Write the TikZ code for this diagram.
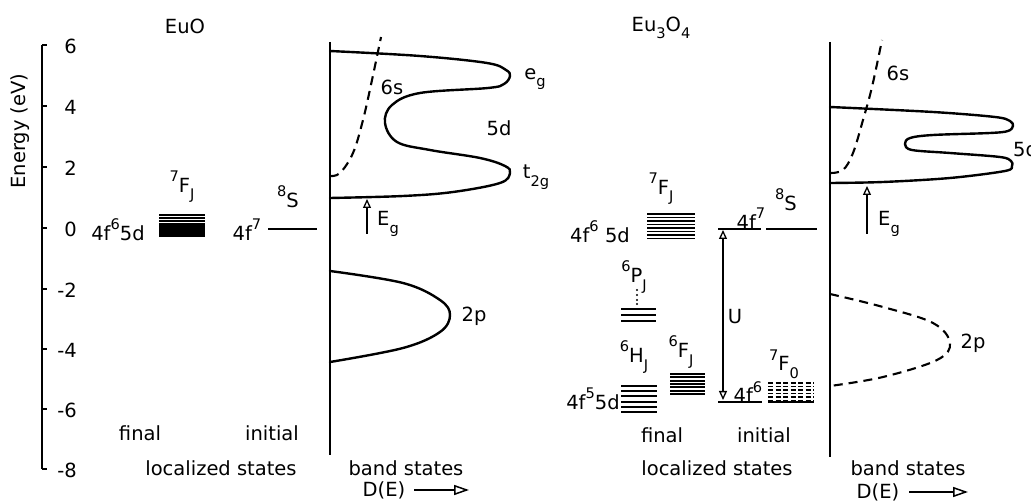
\documentclass[tikz,border=0pt]{standalone}
\usepackage{fontspec}
\setmainfont{DejaVu Sans}
\usetikzlibrary{arrows.meta}
\newcommand\upx[1]{\raisebox{0.55em}{\scalebox{0.75}{#1}}}
\newcommand\dnx[1]{\raisebox{-0.38em}{\scalebox{0.75}{#1}}}
\newcommand\levs[4][lev]{\foreach \yy in {#4}{\draw[#1] (#2,\yy) -- (#3,\yy);}}
\tikzset{
  lbl/.style={inner sep=0pt, font=\fontsize{19.5}{22}\selectfont},
  curve/.style={line width=2.4pt, line join=round, line cap=round},
  dcurve/.style={line width=2.1pt, dash pattern=on 9pt off 6pt},
  lev/.style={line width=1.7pt},
  thinlev/.style={line width=1.3pt},
  axisl/.style={line width=2pt},
  openarr/.style={-{Triangle[open,length=9pt,width=8pt]}, line width=1.3pt},
  bigarr/.style={-{Triangle[open,length=15pt,width=10pt]}, line width=1.5pt},
}
\begin{document}
\begin{tikzpicture}[x=1pt,y=-1pt]
\useasboundingbox (0,0) rectangle (1031,502);
% ---------------- axis ----------------
\coordinate (axtop) at (42,45);
\coordinate (axbot) at (42,469);
\draw[axisl] (axtop) -- (axbot);
\node[lbl, rotate=90] (elab) at (20,131) {Energy (eV)};
\foreach \v/\yy [count=\i] in {6/45, 4/106, 2/167, 0/228, -2/289, -4/349, -6/409, -8/469}{
  \draw[axisl] (42,\yy) -- (47,\yy);
  \node[lbl, anchor=east] (tick\i) at (77,\yy+1) {\v};
}
% ---------------- EuO ----------------
\node[lbl] (t1) at (185,26) {EuO};
\node[lbl] (euo-fin) at (118,230) {4f\upx{6}5d};
\levs[line width=2.2pt]{159}{205}{215,218,221,224,226.5,229,231.5,234,236}
\node[lbl] (euo-7f) at (182,187) {\upx{7}F\dnx{J}};
\node[lbl] (euo-ini) at (247,230) {4f\upx{7}};
\draw[thinlev] (268,229) -- (317,229);
\node[lbl] (euo-8s) at (288,197) {\upx{8}S};
\node[lbl] (fin1) at (140,433) {final};
\node[lbl] (ini1) at (272,433) {initial};
\node[lbl] (loc1) at (221,468) {localized states};
% band states
\coordinate (b1top) at (330,42);
\coordinate (b1bot) at (330,455);
\draw[axisl] (b1top) -- (b1bot);
\draw[curve] plot[smooth, tension=0.6] coordinates {(330,51) (420,56) (487,63) (506,70) (510,76) (504,84) (488,88) (420,93) (392,105) (385,123) (397,142) (430,150) (480,158) (505,166) (510,173) (500,183) (453,192) (403,196) (330,198)};
\draw[dcurve] plot[smooth, tension=0.6] coordinates {(330,176) (340,173) (353,153) (363,120) (372,80) (381,37)};
\draw[curve] plot[smooth, tension=0.6] coordinates {(330,271) (403,283) (440,300) (450,315) (440,332) (403,348) (330,362)};
\coordinate (eg1a) at (367,234);
\coordinate (eg1b) at (367,199);
\draw[openarr] (eg1a) -- (eg1b);
\node[lbl] (eg1) at (388,224) {E\dnx{g}};
\node[lbl] (s6a) at (392,87) {6s};
\node[lbl] (egl) at (535,79) {e\dnx{g}};
\node[lbl] (d5a) at (499,128) {5d};
\node[lbl] (t2g) at (536,177) {t\dnx{2g}};
\node[lbl] (p2a) at (474,316) {2p};
\node[lbl] (bs1) at (406,468) {band states};
\node[lbl] (de1) at (384,490) {D(E)};
\coordinate (de1a) at (414,490);
\coordinate (de1b) at (469,490);
\draw[bigarr] (de1a) -- (de1b);
% ---------------- Eu3O4 ----------------
\node[lbl] (t2) at (661,28) {Eu\dnx{3}O\dnx{4}};
\node[lbl] (e3-fin6) at (600,232) {4f\upx{6} 5d};
\levs[line width=1.9pt]{647}{695}{214,217.5,221,224.5,228,231.5,235,238.5}
\node[lbl] (e3-7f) at (661,189) {\upx{7}F\dnx{J}};
\node[lbl] (e3-f7) at (751,219) {4f\upx{7}};
\node[lbl] (e3-8s) at (786,200) {\upx{8}S};
\draw[thinlev] (718,229) -- (761,229);
\draw[thinlev] (766,229) -- (817,229);
% U arrow
\coordinate (ua) at (723,315);
\coordinate (utop) at (723,230);
\coordinate (ubot) at (723,400);
\draw[openarr] (ua) -- (utop);
\draw[openarr] (ua) -- (ubot);
\node[lbl] (ulab) at (735,317) {U};
% 4f6 initial
\node[lbl] (e3-f6) at (748,392) {4f\upx{6}};
\draw[thinlev] (718,402) -- (762,402);
\levs[line width=1.9pt, dash pattern=on 5pt off 2.5pt]{768}{814}{383,386.5,390,393.5,397,400.5}
\draw[thinlev] (768,402) -- (814,402);
\node[lbl] (e3-7f0) at (784,364) {\upx{7}F\dnx{0}};
% final states
\node[lbl] (e3-6p) at (634,277) {\upx{6}P\dnx{J}};
\foreach \yy in {290,295,300,304}{\fill (637,\yy) circle (1.2pt);}
\levs[line width=1.9pt]{621}{656}{309,315,321}
\node[lbl] (e3-6h) at (634,357) {\upx{6}H\dnx{J}};
\levs[line width=1.9pt]{621}{657}{386,391.2,396.4,401.6,406.8,412}
\node[lbl] (e3-6f) at (681,352) {\upx{6}F\dnx{J}};
\levs[line width=1.9pt]{670}{705}{374,377.3,380.6,384,387.3,390.6,394}
\node[lbl] (e3-f5) at (593,399) {4f\upx{5}5d};
\node[lbl] (fin2) at (662,435) {final};
\node[lbl] (ini2) at (764,435) {initial};
\node[lbl] (loc2) at (717,468) {localized states};
% band states
\coordinate (b2top) at (830,42);
\coordinate (b2bot) at (830,457);
\draw[axisl] (b2top) -- (b2bot);
\draw[curve] plot[smooth, tension=0.55] coordinates {(830,107) (933,112) (995,117) (1010,121) (1013,126) (1008,131) (990,133) (933,135) (910,138) (905,144) (912,150) (950,153) (1000,157) (1011,161) (1012,166) (1005,171) (950,178) (883,182) (830,183)};
\draw[dcurve] plot[smooth, tension=0.6] coordinates {(830,173) (843,170) (853,153) (863,120) (872,87) (882,40)};
\draw[dcurve] plot[smooth, tension=0.6] coordinates {(830,294) (883,307) (933,323) (950,343) (937,360) (883,377) (830,386)};
\coordinate (eg2a) at (867,234);
\coordinate (eg2b) at (867,186);
\draw[openarr] (eg2a) -- (eg2b);
\node[lbl] (eg2) at (889,224) {E\dnx{g}};
\node[lbl] (s6b) at (898,73) {6s};
\node[lbl, anchor=west] (d5b) at (1013,149) {5d};
\node[lbl] (p2b) at (973,343) {2p};
\node[lbl] (bs2) at (908,468) {band states};
\node[lbl] (de2) at (878,492) {D(E)};
\coordinate (de2a) at (909,492);
\coordinate (de2b) at (968,492);
\draw[bigarr] (de2a) -- (de2b);
\end{tikzpicture}
\end{document}
